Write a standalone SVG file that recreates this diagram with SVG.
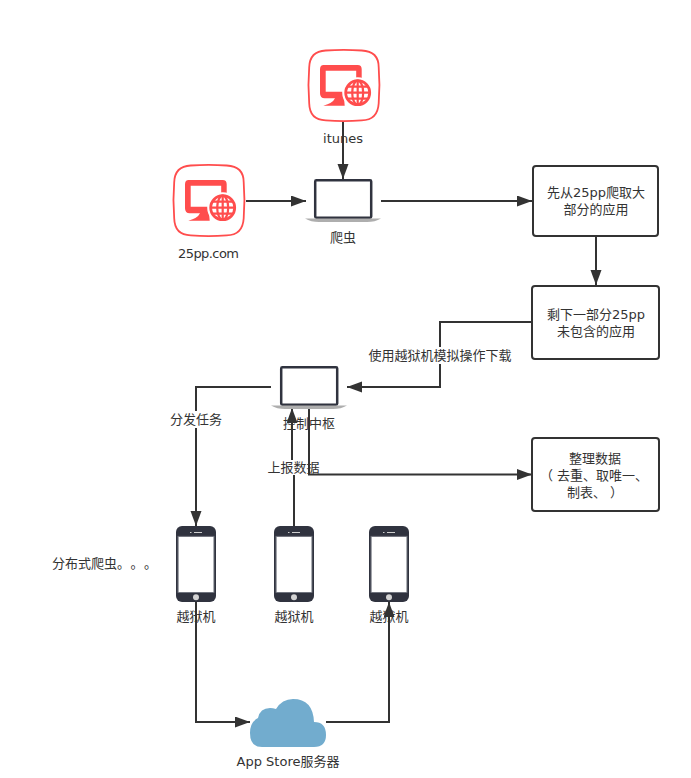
<svg xmlns="http://www.w3.org/2000/svg" width="691" height="778" viewBox="0 0 691 778">
<style>
text{font-family:"DejaVu Sans","Noto Sans CJK SC",sans-serif;font-size:13px;fill:#333;text-anchor:middle}
text.z{font-family:"Noto Sans CJK SC",sans-serif;text-anchor:start}
.c{fill:none;stroke:#333;stroke-width:2}
.box{fill:#fff;stroke:#333;stroke-width:2}
.bg{fill:#fff}
</style>
<defs>
<marker id="a" markerUnits="userSpaceOnUse" markerWidth="16" markerHeight="12" refX="15" refY="5.500" orient="auto"><path d="M0 0L15 5.500L0 11Z" fill="#333"/></marker>
<symbol id="web" overflow="visible">
<path d="M18 1.200Q36 0 54 1.200Q71 2 71 18Q72.500 36 71 54Q70 71 54 71Q36 72.500 18 71Q2 71 1.500 54Q0 36 1.500 18Q2 2 18 1.200Z" fill="#fff" stroke="#ff4d4d" stroke-width="1.800"/>
<path fill-rule="evenodd" fill="#ff4d4d" d="M16 15.700H50Q54 15.700 54 20V45H36L37 56.400L15.600 56.400Q25 54 27.300 49H17Q12.300 49 12.300 44V20Q12.300 15.700 16 15.700ZM18 21.500V42.400H48.500V21.500Z"/>
<circle cx="50" cy="43.400" r="15.500" fill="#fff"/>
<circle cx="50" cy="43.400" r="12" fill="none" stroke="#ff4d4d" stroke-width="2.800"/>
<ellipse cx="50" cy="43.400" rx="5.500" ry="12" fill="none" stroke="#ff4d4d" stroke-width="2.200"/>
<path d="M38 43.400H62M40 37.400H60M40 49.400H60M50 32V55" stroke="#ff4d4d" stroke-width="2.200" fill="none"/>
</symbol>
<symbol id="laptop" overflow="visible">
<rect x="10.200" y="1.200" width="56" height="37.500" rx="1.200" fill="#fff" stroke="#30333f" stroke-width="2.500"/>
<path d="M0 39.500H76Q70 43 62 43H14Q6 43 0 39.500Z" fill="#aeaeae"/>
</symbol>
<symbol id="phone" overflow="visible">
<rect width="40" height="76" rx="6" fill="#30333f"/>
<rect x="2.300" y="10.700" width="35.500" height="55.500" fill="#fff"/>
<rect x="2" y="10.300" width="36" height="56.200" fill="none" stroke="#777a84" stroke-width="0.800"/>
<circle cx="20" cy="71.300" r="3" fill="#d4d4d4"/>
<path d="M14 6.500H15.500M18 6.500H26" stroke="#cfcfcf" stroke-width="1"/>
</symbol>
</defs>
<g id="connectors">
<path class="c" d="M343 121V179" marker-end="url(#a)"/>
<path class="c" d="M246 201H306" marker-end="url(#a)"/>
<path class="c" d="M381 201H532" marker-end="url(#a)"/>
<path class="c" d="M596 236V285" marker-end="url(#a)"/>
<path class="c" d="M532 322H440V387H347" marker-end="url(#a)"/>
<path class="c" d="M271 387H196V526" marker-end="url(#a)"/>
<path class="c" d="M294 526V468H292V408" marker-end="url(#a)"/>
<path class="c" d="M309 408V474.500H532" marker-end="url(#a)"/>
<path class="c" d="M196 602V722H250" marker-end="url(#a)"/>
<path class="c" d="M326 722H389V602" marker-end="url(#a)"/>
</g>
<g id="itunes"><use href="#web" x="307.700" y="49.300"/><text x="343" y="143">itunes</text></g>
<g id="site25pp"><use href="#web" x="172.700" y="164.300"/><text x="208.500" y="258" textLength="61">25pp.com</text></g>
<g id="crawler"><use href="#laptop" x="305" y="179"/><text x="343" y="242">爬虫</text></g>
<g id="box1"><rect class="box" x="533" y="166" width="125" height="70" rx="3"/><text x="596" y="197">先从25pp爬取大</text><text x="596" y="214">部分的应用</text></g>
<g id="box2"><rect class="box" x="532" y="286" width="127" height="73" rx="3"/><text x="596" y="319">剩下一部分25pp</text><text x="596" y="336">未包含的应用</text></g>
<g id="label-download"><rect class="bg" x="368" y="347" width="144" height="17"/><text x="440" y="360">使用越狱机模拟操作下载</text></g>
<g id="control"><use href="#laptop" x="271" y="366"/><text x="309" y="428">控制中枢</text></g>
<g id="label-dispatch"><rect class="bg" x="169" y="411" width="54" height="17"/><text x="196" y="424">分发任务</text></g>
<g id="label-report"><rect class="bg" x="267" y="460" width="41" height="15"/><text x="293.500" y="472">上报数据</text></g>
<g id="box3"><rect class="box" x="532" y="438" width="127" height="73" rx="3"/><text x="595" y="463">整理数据</text><text x="594" y="480">（ 去重、取唯一、</text><text x="595" y="497">制表、 ）</text></g>
<g id="distributed"><text class="z" x="52 65 78 91 104 117 130.400 144" y="568">分布式爬虫。。。</text></g>
<g id="phone1"><use href="#phone" x="176" y="526"/><text x="196" y="621">越狱机</text></g>
<g id="phone2"><use href="#phone" x="274" y="526"/><text x="294" y="621">越狱机</text></g>
<g id="phone3"><use href="#phone" x="369" y="526"/><text x="389" y="621">越狱机</text></g>
<g id="appstore"><path fill="#72acce" d="M262 747Q250 747 250 733Q250 722 258 718Q260 708 270 708Q273 708 276 709Q282 699 293 699Q313 699 314 722Q326 722 326 735Q326 747 314 747Z"/><text x="288" y="766">App Store服务器</text></g>
</svg>
